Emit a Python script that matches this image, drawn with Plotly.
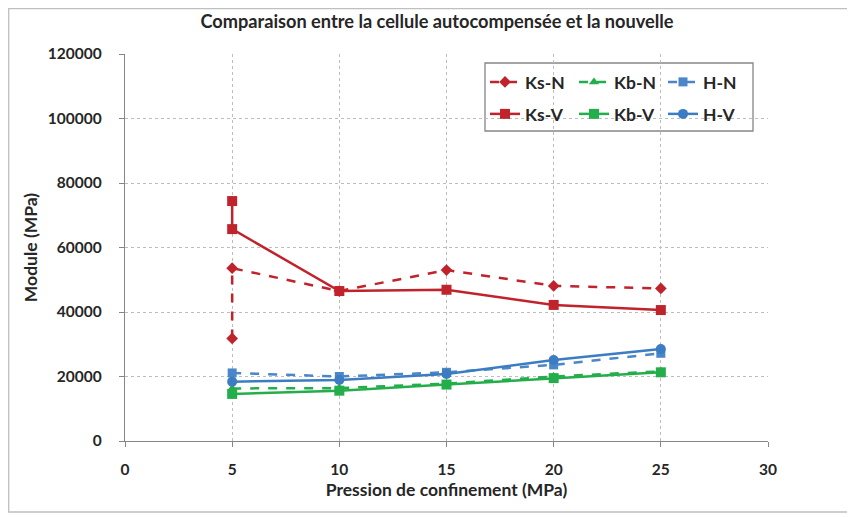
import plotly.graph_objects as go

pression = [5, 5, 10, 15, 20, 25]
ks_n = [31800, 53600, 46500, 53000, 48100, 47300]
ks_v = [74400, 65700, 46500, 46900, 42200, 40600]
pression_b = [5, 10, 15, 20, 25]
kb_n = [16300, 16400, 17800, 20000, 21600]
kb_v = [14600, 15600, 17500, 19500, 21300]
h_n = [21100, 20000, 21300, 23600, 27200]
h_v = [18400, 18900, 20800, 25100, 28500]

RED = "#C0232B"
GREEN = "#23AE4B"
BLUE = "#3C7CC2"
BLUE_D = "#4A86C8"
TXT = "#262626"
FONT = "Lato"

fig = go.Figure()

def add(x, y, name, color, dash, symbol, size, legend):
    fig.add_trace(go.Scatter(
        x=x, y=y, name=name, mode="lines+markers", legend=legend,
        line=dict(color=color, width=2.5, dash=dash),
        marker=dict(symbol=symbol, size=size, color=color),
    ))

add(pression, ks_n, "Ks-N", RED, "dash", "diamond", 9, "legend")
add(pression_b, kb_n, "Kb-N", GREEN, "dash", "triangle-up", 9, "legend")
add(pression_b, h_n, "H-N", BLUE_D, "dash", "square", 9, "legend")
add(pression, ks_v, "Ks-V", RED, "solid", "square", 10, "legend2")
add(pression_b, kb_v, "Kb-V", GREEN, "solid", "square", 10, "legend2")
add(pression_b, h_v, "H-V", BLUE, "solid", "circle", 10, "legend2")

axis_common = dict(
    showgrid=True, gridcolor="#BDBDBD", griddash="3px,3px", gridwidth=1,
    showline=True, linecolor="#868686", linewidth=1.3,
    ticks="outside", ticklen=5, tickcolor="#868686",
    tickfont=dict(family=FONT, size=15.5, color=TXT, weight="bold"),
    zeroline=False,
)

fig.update_xaxes(range=[0, 30], dtick=5, ticklabelstandoff=9, **axis_common,
                 title=dict(text="Pression de confinement (MPa)",
                            font=dict(family=FONT, size=17.5, color=TXT, weight="bold"),
                            standoff=6))
fig.update_yaxes(range=[0, 120000], dtick=20000, tickformat="d",
                 ticklabelstandoff=14, **axis_common,
                 title=dict(text="Module (MPa)",
                            font=dict(family=FONT, size=17.5, color=TXT, weight="bold"),
                            standoff=5))

leg = dict(orientation="h", bgcolor="rgba(0,0,0,0)", borderwidth=0,
           font=dict(family=FONT, size=17.5, color=TXT, weight="bold"),
           xanchor="left", yanchor="middle", entrywidth=44, itemwidth=30)

fig.update_layout(
    width=847, height=509,
    margin=dict(l=117, r=87, t=46, b=76),
    paper_bgcolor="white", plot_bgcolor="white",
    title=dict(text="Comparaison entre la cellule autocompensée et la nouvelle",
               x=(437 - 8) / 847, xanchor="center", y=1 - 14 / 509, yanchor="middle",
               font=dict(family=FONT, size=18.2, color=TXT, weight="bold")),
    legend=dict(x=(485 - 125) / 643, y=(441 - 82) / 387, **leg),
    legend2=dict(x=(485 - 125) / 643, y=(441 - 114) / 387, **leg),
    shapes=[
        dict(type="rect", xref="x domain", yref="y domain", layer="below",
             x0=(485 - 125) / 643, x1=(753 - 125) / 643,
             y0=(441 - 131) / 387, y1=(441 - 63) / 387,
             fillcolor="white", line=dict(color="#868686", width=1.3)),
        dict(type="rect", xref="paper", yref="paper", layer="below",
             x0=(8.7 - 125) / 643, x1=(851 - 125) / 643,
             y0=(441 - 512) / 387, y1=(441 - 8.7) / 387,
             fillcolor="rgba(0,0,0,0)", line=dict(color="#BFBFBF", width=1.3)),
    ],
    showlegend=True,
)

fig.write_html("out.html")
